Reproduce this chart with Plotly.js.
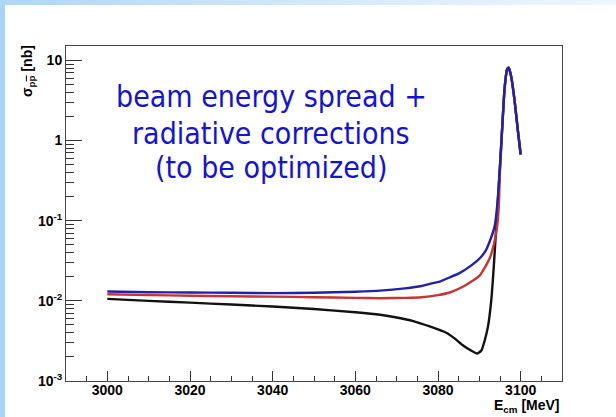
<!DOCTYPE html>
<html>
<head>
<meta charset="utf-8">
<script src="https://cdn.plot.ly/plotly-3.0.1.min.js"></script>
<style>
  html, body { margin: 0; padding: 0; background: #ffffff; }
  #chart { position: absolute; left: 0; top: 0; width: 616px; height: 417px; }
  #stripLeft { position: absolute; left: 0; top: 0; width: 5px; height: 417px; background: #a9d4f6; z-index: 5; }
  #stripTop { position: absolute; left: 0; top: 0; width: 616px; height: 5px; z-index: 5;
    background: linear-gradient(to right, #aed6f6, #d3e8fa 50%, #eef6fd); }
</style>
</head>
<body>
<div id="chart"></div>
<div id="stripLeft"></div>
<div id="stripTop"></div>
<script>
// ---- data ----
const energyBlack = [3000, 3010, 3020, 3030, 3040, 3050, 3060, 3066, 3070, 3074, 3078, 3082, 3084, 3086, 3088, 3089.5, 3090.5, 3091.3, 3092.1, 3092.9, 3093.5, 3094, 3094.4, 3094.9, 3095.6, 3096.1, 3096.7, 3097.1, 3097.7, 3098.5, 3099.3, 3100];
const sigmaBlack  = [0.0106, 0.0100, 0.0095, 0.0090, 0.0085, 0.0079, 0.0072, 0.0067, 0.0062, 0.0056, 0.0048, 0.0040, 0.0034, 0.0028, 0.0024, 0.0022, 0.0024, 0.0032, 0.0048, 0.0103, 0.027, 0.07, 0.15, 0.40, 1.66, 4.4, 7.7, 8.1, 6.3, 3.25, 1.37, 0.67];

const energyRed = [3000, 3010, 3020, 3030, 3040, 3050, 3060, 3066, 3072, 3076, 3080, 3083, 3086, 3088, 3090, 3091.5, 3092.5, 3093.5, 3094.3, 3094.7, 3095.0, 3095.6, 3096.1, 3096.7, 3097.1, 3097.7, 3098.5, 3099.3, 3100];
const sigmaRed  = [0.0121, 0.0118, 0.0116, 0.0114, 0.0113, 0.0111, 0.0109, 0.0108, 0.0109, 0.0111, 0.0118, 0.0128, 0.0150, 0.0173, 0.0205, 0.027, 0.034, 0.050, 0.085, 0.15, 0.42, 1.66, 4.4, 7.7, 8.1, 6.3, 3.25, 1.37, 0.67];

const energyBlue = [3000, 3010, 3020, 3030, 3040, 3050, 3060, 3066, 3072, 3076, 3078, 3080.4, 3083, 3085.2, 3088, 3090, 3091.5, 3092.5, 3093.7, 3094.3, 3094.9, 3095.6, 3096.1, 3096.7, 3097.1, 3097.7, 3098.5, 3099.3, 3100];
const sigmaBlue  = [0.0131, 0.0128, 0.0127, 0.0126, 0.0125, 0.0126, 0.0130, 0.0134, 0.0143, 0.0153, 0.0163, 0.0174, 0.0198, 0.0222, 0.0275, 0.0335, 0.042, 0.055, 0.085, 0.15, 0.40, 1.66, 4.4, 7.7, 8.1, 6.3, 3.25, 1.37, 0.67];

const yTickVals  = [0.001, 0.01, 0.1, 1, 10];
const yTickText  = ['10<sup>-3</sup>', '10<sup>-2</sup>', '10<sup>-1</sup>', '1', '10'];
const noteLines  = ['beam energy spread +', 'radiative corrections', '(to be optimized)'];
const xTitle = 'E<sub>cm</sub> [MeV]';
const yTitle = 'σ<sub>p<span style="text-decoration:overline">p</span></sub> [nb]';

// minor ticks for the log axis (2..9 in each decade)
const yMinorVals = [];
for (let d = 0; d < yTickVals.length; d++) {
  for (let k = 2; k <= 9; k++) yMinorVals.push(yTickVals[d] * k);
}

const lineW = 2.4;
const traces = [
  { x: energyBlack, y: sigmaBlack, mode: 'lines', line: { color: '#111111', width: lineW, shape: 'spline', smoothing: 0.5 } },
  { x: energyRed,   y: sigmaRed,   mode: 'lines', line: { color: '#c83434', width: lineW, shape: 'spline', smoothing: 0.5 } },
  { x: energyBlue,  y: sigmaBlue,  mode: 'lines', line: { color: '#2222a6', width: lineW, shape: 'spline', smoothing: 0.5 } }
];

const tickFont = { family: 'Liberation Sans, Arial, sans-serif', size: 14, color: '#000', weight: 'bold' };
const noteFont = { family: 'DejaVu Sans Condensed, DejaVu Sans, sans-serif', size: 30, color: '#1414cc' };
const noteX = (271 - 66) / 496;
const noteY = [96, 133, 167].map(v => (381 - v) / 335);

const annotations = noteLines.map((t, i) => ({
  text: t, xref: 'paper', yref: 'paper', x: 1, y: 0, xanchor: 'right'
})).map((a, i) => ({
  text: noteLines[i], xref: 'paper', yref: 'paper', x: noteX, y: noteY[i],
  xanchor: 'center', yanchor: 'middle', showarrow: false, font: noteFont
}));
annotations.push({
  text: xTitle, xref: 'paper', yref: 'paper', x: 1, y: (381 - 417) / 335,
  xanchor: 'right', yanchor: 'bottom', showarrow: false,
  font: { family: 'Liberation Sans, Arial, sans-serif', size: 14, color: '#000', weight: 'bold' }
});
annotations.push({
  text: yTitle, xref: 'paper', yref: 'paper', x: (28 - 66) / 496, y: (381 - 43) / 335,
  xanchor: 'center', yanchor: 'top', textangle: -90, showarrow: false,
  font: { family: 'Liberation Sans, Arial, sans-serif', size: 14, color: '#000', weight: 'bold' }
});

const layout = {
  width: 616, height: 417,
  margin: { l: 66, r: 54, t: 46, b: 36, pad: 0 },
  paper_bgcolor: '#ffffff', plot_bgcolor: '#ffffff',
  showlegend: false,
  xaxis: {
    range: [2990, 3110], tick0: 3000, dtick: 20, ticks: 'inside', ticklen: 10, tickwidth: 1, tickcolor: '#333',
    showline: true, mirror: true, linecolor: '#444', linewidth: 1, showgrid: false, zeroline: false,
    tickfont: tickFont, ticklabelstandoff: -4,
    minor: { dtick: 5, ticks: 'inside', ticklen: 5, tickwidth: 1, tickcolor: '#333', showgrid: false }
  },
  yaxis: {
    type: 'log', range: [-3, 1.18], tickmode: 'array', tickvals: yTickVals, ticktext: yTickText,
    ticks: 'inside', ticklen: 16, tickwidth: 1, tickcolor: '#333',
    showline: true, mirror: true, linecolor: '#444', linewidth: 1, showgrid: false, zeroline: false,
    tickfont: { family: 'Liberation Sans, Arial, sans-serif', size: 14, color: '#000', weight: 'bold' },
    minor: { tickmode: 'array', tickvals: yMinorVals, ticks: 'inside', ticklen: 8, tickwidth: 1, tickcolor: '#333', showgrid: false }
  },
  annotations: annotations
};

Plotly.newPlot('chart', traces, layout, { staticPlot: true, displayModeBar: false });
</script>
</body>
</html>
